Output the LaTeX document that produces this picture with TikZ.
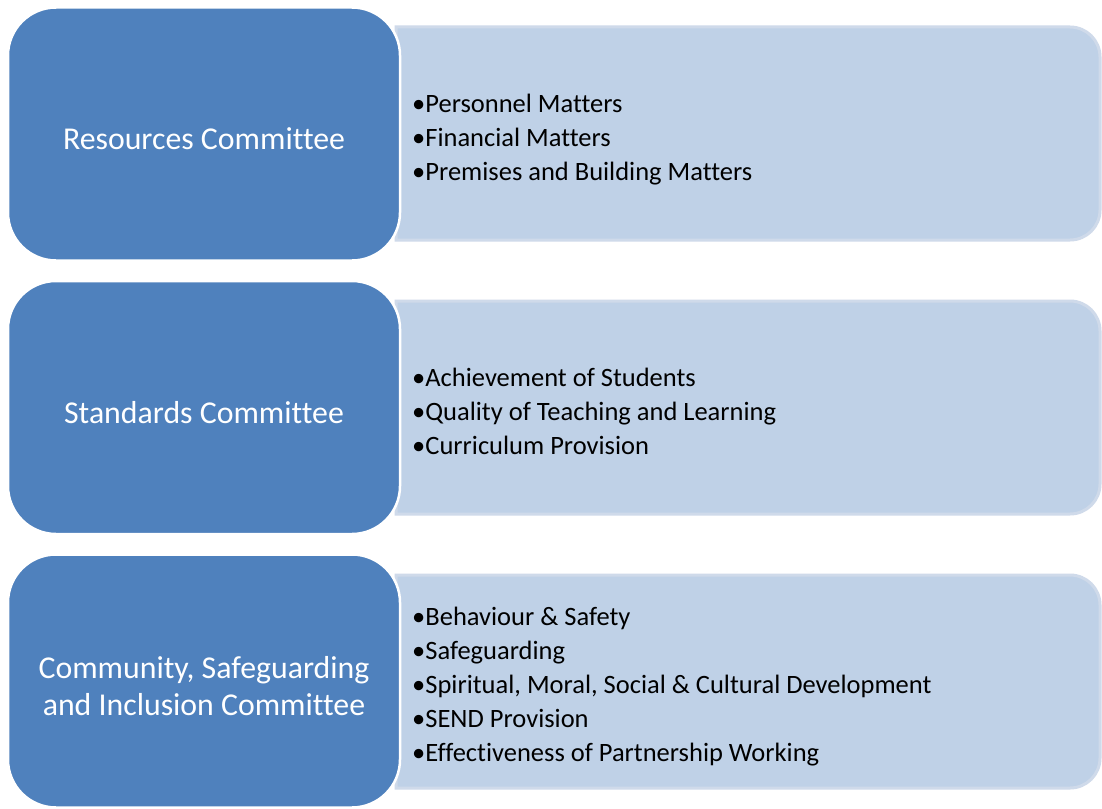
\documentclass[tikz,border=0pt]{standalone}
\usepackage{fontspec}
\setmainfont{Carlito}[Ligatures=NoCommon]
\definecolor{boxblue}{HTML}{4F81BD}
\definecolor{boxlight}{HTML}{BFD1E7}
\definecolor{boxedge}{HTML}{CFDAEA}
\begin{document}
\begin{tikzpicture}[x=1pt,y=-1pt,
  bluebox/.style={fill=boxblue,draw=white,line width=2.5pt,rounded corners=48pt,
    minimum width=392pt,minimum height=253pt,inner sep=0pt},
  bluetext/.style={text=white,align=center,font=\fontsize{31.8}{37}\selectfont,inner sep=0pt},
  item/.style={anchor=base west,inner sep=0pt,font=\fontsize{26.5}{34}\selectfont,text=black},
  lightbox/.style={fill=boxlight,draw=boxedge,line width=3pt}]
\useasboundingbox[fill=white] (0,0) rectangle (1102,808);
% light panels
\foreach \t in {27,301,575}{
  \draw[lightbox] (396,\t) -- (1070,\t) arc[start angle=-90,end angle=0,radius=30]
    -- (1100,\t+183) arc[start angle=0,end angle=90,radius=30] -- (396,\t+213) -- cycle;
}
% blue boxes
\node[bluebox] (res) at (204,134) {};
\node[bluebox] (std) at (204,407.5) {};
\node[bluebox] (com) at (204,681) {};
\node[bluetext] (rest) at ([yshift=-5pt]res.center) {Resources Committee};
\node[bluetext] (stdt) at ([yshift=-5pt]std.center) {Standards Committee};
\node[bluetext] (comt) at ([yshift=-5pt]com.center) {Community, Safeguarding\\and Inclusion Committee};
% items
\node[item] (r1) at (412,112) {•Personnel Matters};
\node[item] (r2) at (412,146) {•Financial Matters};
\node[item] (r3) at (412,180) {•Premises and Building Matters};
\node[item] (s1) at (412,386) {•Achievement of Students};
\node[item] (s2) at (412,420) {•Quality of Teaching and Learning};
\node[item] (s3) at (412,454) {•Curriculum Provision};
\node[item] (c1) at (412,625) {•Behaviour \& Safety};
\node[item] (c2) at (412,659) {•Safeguarding};
\node[item] (c3) at (412,693) {•Spiritual, Moral, Social \& Cultural Development};
\node[item] (c4) at (412,727) {•SEND Provision};
\node[item] (c5) at (412,761) {•Effectiveness of Partnership Working};
\end{tikzpicture}
\end{document}
